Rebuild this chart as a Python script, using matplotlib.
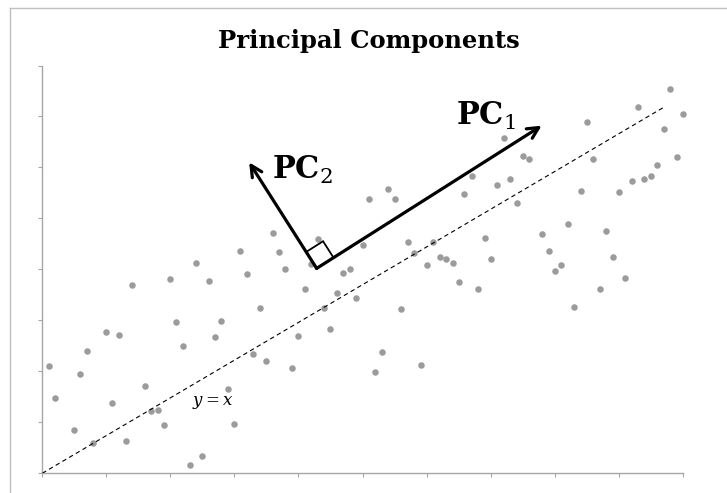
import matplotlib
matplotlib.use("Agg")
import matplotlib.pyplot as plt
from matplotlib.lines import Line2D
from matplotlib.patches import Polygon
import numpy as np

# scatter data
x_vals = [0.08, 0.15, 0.37, 0.44, 0.52, 0.59, 0.74, 0.81, 0.89, 0.97,
          1.04, 1.19, 1.26, 1.34, 1.41, 1.48, 1.55, 1.63, 1.71, 1.78,
          1.85, 1.93, 2.00, 2.07, 2.15, 2.22, 2.29, 2.37, 2.66, 2.74,
          2.81, 3.18, 3.10, 3.04, 2.52, 3.40, 3.48, 3.56, 3.63, 3.26,
          3.32, 2.96, 2.44, 2.59, 2.89, 3.70, 3.77, 4.00, 4.07, 4.22,
          4.29, 4.51, 4.59, 4.66, 4.74, 4.44, 4.81, 4.14, 3.92, 4.37,
          3.85, 4.87, 5.03, 5.18, 5.92, 5.99, 6.14, 6.44, 6.73, 7.25,
          6.88, 7.40, 7.18, 7.33, 7.10, 7.03, 6.95, 6.81, 6.66, 6.29,
          6.36, 6.22, 5.33, 5.55, 5.62, 4.96, 5.25, 5.40, 5.48, 5.11,
          6.07, 5.77, 6.51, 5.85, 6.59]
y_vals = [2.10, 1.47, 0.85, 1.94, 2.39, 0.59, 2.77, 1.37, 2.72, 0.64,
          3.70, 1.72, 1.23, 1.24, 0.95, 3.82, 2.96, 2.50, 0.16, 4.13,
          0.34, 3.77, 2.68, 2.98, 1.65, 0.97, 4.36, 3.90, 4.71, 4.34,
          4.01, 4.60, 4.10, 3.62, 3.25, 3.53, 3.92, 4.01, 3.44, 3.24,
          2.83, 2.70, 2.34, 2.21, 2.06, 4.47, 5.39, 5.58, 5.39, 4.53,
          4.33, 4.53, 4.25, 4.21, 4.13, 4.09, 3.75, 3.23, 2.37, 2.12,
          1.98, 5.47, 3.62, 4.20, 3.96, 4.09, 3.27, 3.62, 3.84, 7.54,
          7.18, 7.05, 6.76, 6.20, 6.05, 5.84, 5.78, 5.74, 5.51, 6.89,
          6.17, 5.53, 6.58, 6.22, 6.17, 5.83, 5.65, 5.78, 5.30, 4.61,
          4.90, 4.69, 4.76, 4.36, 4.25]

# y = x reference line
line_x = [0.0, 7.2]

# principal component vectors
pc_origin = (3.17, 4.02)
pc1_tip = (5.77, 6.82)
pc2_tip = (2.39, 6.10)


def main():
    plt.rcParams['mathtext.fontset'] = 'dejavuserif'

    fig = plt.figure(figsize=(7.27, 4.93), dpi=100)
    ax = fig.add_axes([0.0582, 0.0400, 0.8809, 0.8271])

    ax.scatter(x_vals, y_vals, s=22, color='#9b9b9b', linewidths=0,
               clip_on=False, zorder=2)
    ax.plot(line_x, line_x, color='black', lw=0.8,
            linestyle=(0, (4, 3)), zorder=3)

    arrow = dict(arrowstyle='->', lw=2.3, color='black',
                 mutation_scale=20, shrinkA=0, shrinkB=0)
    ax.annotate('', xy=pc1_tip, xytext=pc_origin, arrowprops=arrow, zorder=4)
    ax.annotate('', xy=pc2_tip, xytext=pc_origin, arrowprops=arrow, zorder=4)

    # right-angle marker, built along the two component directions
    o = np.array(pc_origin)
    v1 = (np.array(pc1_tip) - o) * 0.075
    v2 = (np.array(pc2_tip) - o) * 0.155
    square = Polygon([o, o + v1, o + v1 + v2, o + v2], closed=True,
                     fill=False, edgecolor='black', lw=1.3, zorder=4)
    ax.add_patch(square)

    ax.text(4.78, 6.84, r'$\mathbf{PC}_{1}$', fontsize=22,
            ha='left', va='baseline')
    ax.text(2.65, 5.78, r'$\mathbf{PC}_{2}$', fontsize=22,
            ha='left', va='baseline')
    ax.text(1.97, 1.40, r'$y = x$', fontsize=12, ha='center', va='center')

    ax.set_xlim(0, 7.4)
    ax.set_ylim(0, 8)
    ax.set_xticks(np.linspace(0, 7.4, 11))
    ax.set_yticks(np.linspace(0, 8, 9))
    ax.tick_params(length=3, width=0.8, color='#a6a6a6',
                   labelbottom=False, labelleft=False)
    for side in ['top', 'right']:
        ax.spines[side].set_visible(False)
    for side in ['left', 'bottom']:
        ax.spines[side].set_color('#a6a6a6')
        ax.spines[side].set_linewidth(1.0)

    fig.text(0.507, 0.902, 'Principal Components', family='DejaVu Serif',
             fontweight='bold', fontsize=17.5, ha='center', va='baseline')

    # chart area border (cut off at right and bottom in the reference)
    fx = 9.5 / 727
    fy = 1 - 7.5 / 493
    fig.add_artist(Line2D([fx, fx], [0, fy], color='#bfbfbf', lw=1.0,
                          transform=fig.transFigure))
    fig.add_artist(Line2D([fx, 1], [fy, fy], color='#bfbfbf', lw=1.0,
                          transform=fig.transFigure))

    fig.savefig('out.png', dpi=100)


if __name__ == '__main__':
    main()
